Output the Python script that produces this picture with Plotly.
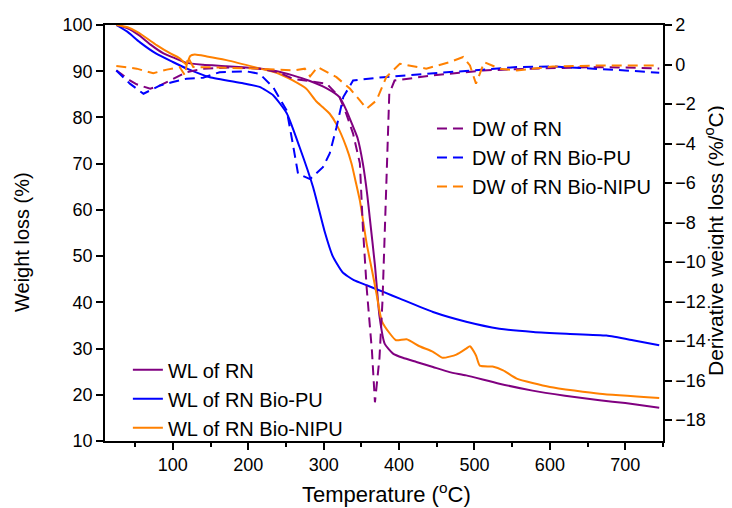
import plotly.graph_objects as go

# ---- data ----
wl_rn_x = [25, 40, 55, 70, 87, 100, 118, 140, 171, 215, 238, 259, 280, 304, 321, 330, 339, 345, 352, 358, 361, 368, 374, 381, 392, 405, 423, 445, 467, 489, 533, 577, 620, 666, 700, 745]
wl_rn_y = [100, 99.3, 97.8, 95.8, 93.9, 93.0, 91.8, 91.4, 91.1, 90.6, 90.0, 89.1, 88.0, 86.3, 84.4, 81.6, 78.0, 75.5, 70.0, 63.0, 58.5, 48.0, 37.0, 31.0, 28.9, 28.0, 27.1, 26.0, 24.9, 24.2, 22.4, 20.9, 19.8, 18.8, 18.2, 17.2]

wl_pu_x = [25, 40, 56, 78, 100, 118, 149, 193, 215, 233, 251, 268, 286, 301, 312, 325, 340, 357, 380, 401, 445, 489, 533, 578, 622, 675, 710, 745]
wl_pu_y = [100, 98.5, 96.3, 93.8, 92.0, 90.6, 88.7, 87.4, 86.6, 84.8, 80.9, 73.6, 64.9, 55.5, 50.0, 46.5, 44.8, 43.7, 42.2, 40.8, 37.9, 35.8, 34.3, 33.6, 33.2, 32.8, 31.8, 30.7]

wl_nipu_x = [25, 40, 55, 70, 79, 95, 109, 118, 123, 129, 145, 171, 215, 240, 259, 277, 290, 299, 308, 317, 330, 337, 343, 348, 357, 364, 370, 377, 388, 396, 410, 427, 445, 458, 476, 489, 494, 502, 507, 524, 538, 556, 600, 666, 745]
wl_nipu_y = [100, 99.5, 98.3, 96.6, 95.6, 94.0, 92.8, 91.5, 93.3, 93.6, 93.2, 92.4, 90.6, 89.5, 88.0, 86.2, 83.5, 82.2, 80.8, 78.5, 73.6, 70.0, 65.7, 62.0, 52.7, 47.0, 41.9, 36.0, 33.2, 31.8, 32.0, 30.5, 29.3, 28.0, 28.7, 30.0, 30.5, 28.5, 26.3, 26.1, 25.3, 23.5, 21.7, 20.2, 19.3]

dw_rn_x = [25, 43, 52, 65, 70, 83, 100, 118, 140, 175, 215, 240, 259, 280, 304, 321, 330, 339, 348, 352, 357, 364, 368, 374, 378, 381, 384, 387, 394, 420, 445, 480, 511, 577, 666, 700, 745]
dw_rn_y = [-0.3, -0.8, -1.0, -1.15, -1.23, -1.06, -0.72, -0.39, -0.21, -0.15, -0.21, -0.4, -0.72, -0.85, -0.97, -1.65, -2.5, -3.5, -5.0, -8.25, -11.3, -14.5, -17.1, -14.85, -11.97, -8.5, -4.36, -1.48, -0.81, -0.68, -0.55, -0.42, -0.30, -0.21, -0.13, -0.15, -0.2]

dw_pu_x = [25, 43, 61, 83, 100, 118, 140, 162, 198, 215, 233, 251, 259, 266, 282, 299, 308, 317, 326, 339, 379, 445, 498, 556, 604, 666, 700, 745]
dw_pu_y = [-0.3, -0.97, -1.48, -1.06, -0.89, -0.72, -0.67, -0.39, -0.35, -0.47, -1.15, -2.33, -4.0, -5.53, -5.8, -5.2, -4.5, -3.18, -1.65, -0.81, -0.64, -0.44, -0.30, -0.13, -0.10, -0.21, -0.3, -0.42]

dw_nipu_x = [25, 52, 74, 92, 109, 116, 120, 127, 160, 215, 260, 275, 282, 292, 317, 335, 348, 357, 370, 383, 401, 436, 467, 485, 494, 502, 513, 533, 556, 604, 666, 745]
dw_nipu_y = [-0.08, -0.21, -0.44, -0.26, -0.13, -0.55, 0.38, -0.13, -0.15, -0.21, -0.30, -0.21, -0.6, -0.13, -0.64, -1.23, -1.82, -2.24, -1.82, -0.64, 0.04, -0.21, 0.12, 0.38, -0.05, -0.97, 0.12, -0.21, -0.30, -0.10, -0.05, -0.05]

left_ticks = [10, 20, 30, 40, 50, 60, 70, 80, 90, 100]
right_ticks = [-18, -16, -14, -12, -10, -8, -6, -4, -2, 0, 2]
x_ticks = [100, 200, 300, 400, 500, 600, 700]

x_title = "Temperature (<sup>o</sup>C)"
y_title = "Weight loss (%)"
y2_title = "Derivative weight loss (%/<sup>o</sup>C)"

PURPLE = "#800080"
BLUE = "#0000FF"
ORANGE = "#FF8000"
FONT = "Liberation Sans, Arial, sans-serif"
DASH = "10px,6px"

fig = go.Figure()

for x, y, c, name in [
    (dw_rn_x, dw_rn_y, PURPLE, "DW of RN"),
    (dw_pu_x, dw_pu_y, BLUE, "DW of RN Bio-PU"),
    (dw_nipu_x, dw_nipu_y, ORANGE, "DW of RN Bio-NIPU"),
]:
    fig.add_trace(go.Scatter(x=x, y=y, mode="lines", name=name, yaxis="y2",
                             line=dict(color=c, width=2, dash=DASH), legend="legend2"))

for x, y, c, name in [
    (wl_rn_x, wl_rn_y, PURPLE, "WL of RN"),
    (wl_pu_x, wl_pu_y, BLUE, "WL of RN Bio-PU"),
    (wl_nipu_x, wl_nipu_y, ORANGE, "WL of RN Bio-NIPU"),
]:
    fig.add_trace(go.Scatter(x=x, y=y, mode="lines", name=name, yaxis="y",
                             line=dict(color=c, width=2, shape="spline", smoothing=0.5), legend="legend"))

axis_common = dict(showgrid=False, zeroline=False, showline=True, linecolor="black", linewidth=1.5,
                   ticks="outside", tickcolor="black", tickwidth=1.5, ticklen=7, automargin=False,
                   tickfont=dict(family=FONT, size=18, color="black"))

# The page body has an 8px margin; the figure is sized so that it fills the 732x508 window.
fig.update_layout(
    width=724, height=500,
    margin=dict(l=97, r=69, t=17, b=67, autoexpand=False),
    paper_bgcolor="white", plot_bgcolor="white",
    font=dict(family=FONT, color="black"),
    xaxis=dict(range=[10, 750], tickvals=x_ticks, mirror=True,
               minor=dict(ticks="outside", dtick=50, tick0=0, ticklen=4, tickcolor="black", tickwidth=1.5),
               **axis_common),
    yaxis=dict(range=[10, 100], tickvals=left_ticks, **axis_common),
    yaxis2=dict(range=[-19.06, 2], tickvals=right_ticks, overlaying="y", side="right", **axis_common),
    legend=dict(x=0.041, y=0.218, xanchor="left", yanchor="top", bgcolor="rgba(0,0,0,0)",
                font=dict(family=FONT, size=20, color="black"), tracegroupgap=0, itemwidth=30),
    legend2=dict(x=0.586, y=0.798, xanchor="left", yanchor="top", bgcolor="rgba(0,0,0,0)",
                 font=dict(family=FONT, size=20, color="black"), tracegroupgap=0, itemwidth=30),
    annotations=[
        dict(text=x_title, xref="paper", yref="paper", x=0.5036, y=0, yshift=-52,
             xanchor="center", yanchor="middle", showarrow=False, font=dict(family=FONT, size=22)),
        dict(text=y_title, xref="paper", yref="paper", x=0, y=0.5, xshift=-83, yshift=-9,
             xanchor="center", yanchor="middle", textangle=-90, showarrow=False, font=dict(family=FONT, size=20)),
        dict(text=y2_title, xref="paper", yref="paper", x=1, y=0.5, xshift=51, yshift=-8,
             xanchor="center", yanchor="middle", textangle=-90, showarrow=False, font=dict(family=FONT, size=21)),
    ],
)

fig.write_html("out.html")
